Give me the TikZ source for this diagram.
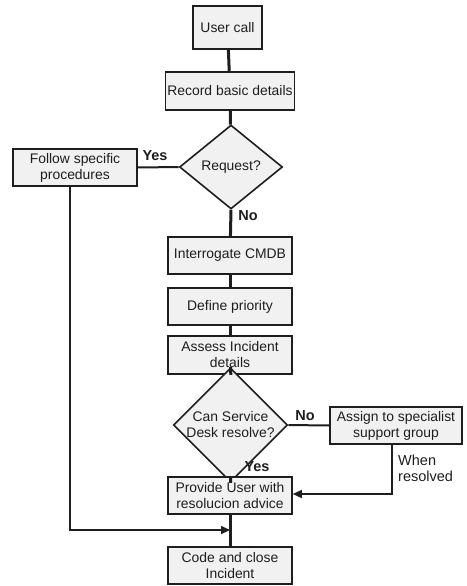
\documentclass[tikz,border=0pt]{standalone}
\usepackage{fontspec}
\setmainfont{Liberation Sans}
\usetikzlibrary{shapes.geometric,arrows.meta}
\definecolor{boxfill}{HTML}{F1F1F1}
\definecolor{ink}{HTML}{1E1E1E}
\tikzset{
  stepbox/.style={draw=ink, line width=1.6pt, fill=boxfill, inner sep=0pt, align=center,
    font=\fontsize{13.9}{16}\selectfont, text=ink},
  decision/.style={draw=ink, line width=1.6pt, fill=boxfill, diamond, inner sep=0pt, align=center,
    font=\fontsize{13.9}{16}\selectfont, text=ink, minimum width=103pt, minimum height=84pt},
  thickline/.style={draw=ink, line width=3pt},
  midline/.style={draw=ink, line width=2pt},
  thinline/.style={draw=ink, line width=1.5pt},
  lbl/.style={font=\bfseries\fontsize{14.5}{16}\selectfont, text=ink, inner sep=0pt},
  arr/.style={-{Triangle[length=9pt,width=8pt]}}
}
\begin{document}
\begin{tikzpicture}[x=1pt,y=-1pt]
\useasboundingbox (0,0) rectangle (466,586);
% nodes
\node[stepbox, minimum width=69pt, minimum height=43pt] (uc) at (227.5,27.5) {User call};
\node[stepbox, minimum width=129pt, minimum height=38pt] (rbd) at (230,91) {Record basic details};
\node[decision] (req) at (231,167) {Request?};
\node[stepbox, minimum width=124pt, minimum height=37pt] (fsp) at (75,167.5) {Follow specific\\procedures};
\node[stepbox, minimum width=124pt, minimum height=37pt] (icm) at (230,255.5) {Interrogate CMDB};
\node[stepbox, minimum width=124pt, minimum height=37pt] (dp) at (230,306.5) {Define priority};
\node[stepbox, minimum width=124pt, minimum height=38pt] (aid) at (230,355) {Assess Incident\\details};
\node[decision] (csd) at (230.5,425) {Can Service\\Desk resolve?};
\node[stepbox, minimum width=132pt, minimum height=37pt] (asg) at (396,425.5) {Assign to specialist\\support group};
\node[stepbox, minimum width=124pt, minimum height=37pt] (pu) at (230,495.5) {Provide User with\\resolucion advice};
\node[stepbox, minimum width=124pt, minimum height=37pt] (cci) at (230,565.5) {Code and close\\Incident};
% connector helper points
\coordinate (fspdown) at (70,530);
\coordinate (join) at (230,530);
\coordinate (asgdown) at (392,494);
% connectors
\draw[thickline] (uc) -- (rbd);
\draw[thickline] (rbd) -- (req);
\draw[midline] (req.west) -- (fsp.east);
\draw[thickline] (req.south) -- (icm);
\draw[thickline] (icm) -- (dp);
\draw[thickline] (dp) -- (aid);
\draw[thickline] (aid) -- (csd.north);
\draw[midline] (csd.east) -- (asg.west);
\draw[thickline] (csd.south) -- (pu);
\draw[thickline] (pu) -- (cci);
\draw[thinline, arr] (fsp.south -| fspdown) -- (fspdown) -- (join);
\draw[thinline, arr] (asg.south -| asgdown) -- (asgdown) -- (pu.east |- asgdown);
% labels
\node[lbl] at (155,156) {Yes};
\node[lbl] at (248,216) {No};
\node[lbl] at (305,416) {No};
\node[lbl] at (257,467) {Yes};
\node[font=\fontsize{14.5}{16}\selectfont, text=ink, align=left, anchor=west, inner sep=0pt] at (398,468) {When\\resolved};
\end{tikzpicture}
\end{document}
